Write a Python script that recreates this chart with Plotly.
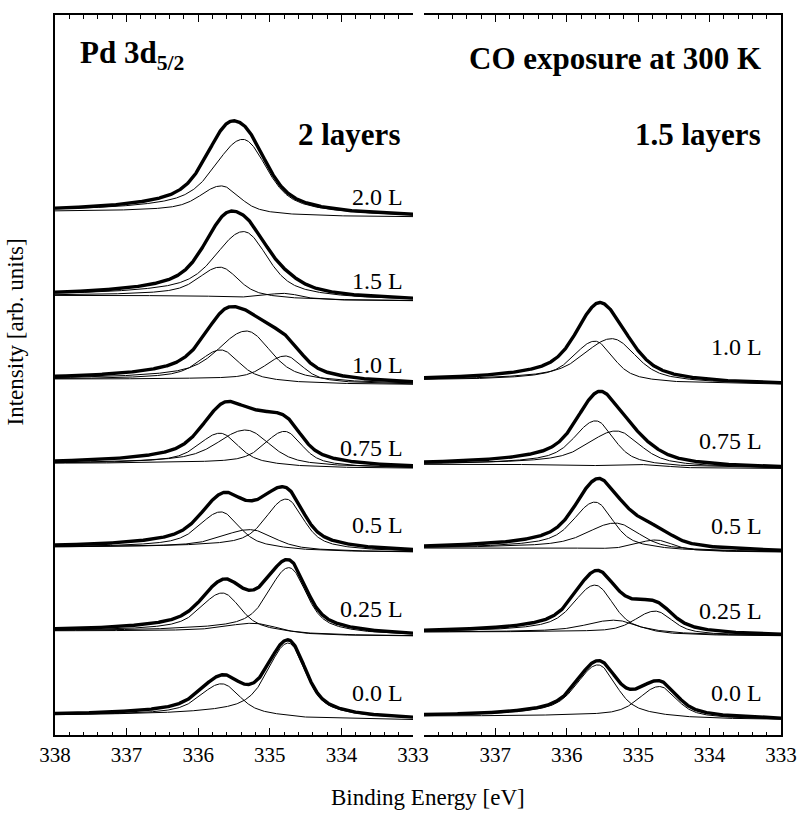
import numpy as np
import plotly.graph_objects as go

# ---------------- data ----------------
# Binding-energy grid limits (eV) and tick labels
BE_MIN, BE_MAX = 333.0, 338.0
left_ticks = [338, 337, 336, 335, 334, 333]
right_ticks = [337, 336, 335, 334, 333]

# Left panel: "2 layers", exposures from bottom to top
left_labels = ["0.0 L", "0.25 L", "0.5 L", "0.75 L", "1.0 L", "1.5 L", "2.0 L"]
left_c1_pos = [335.67, 335.66, 335.68, 335.69, 335.68, 335.69, 335.67]
left_c1_amp = [0.39, 0.47, 0.44, 0.38, 0.37, 0.36, 0.33]
left_c2_pos = [335.27, 335.22, 335.27, 335.33, 335.32, 335.36, 335.37]
left_c2_amp = [0.00, 0.12, 0.24, 0.43, 0.61, 0.80, 0.90]
left_c3_pos = [334.74, 334.73, 334.77, 334.79, 334.78, 334.80, 334.80]
left_c3_amp = [0.90, 0.80, 0.62, 0.43, 0.33, 0.08, 0.00]

# Right panel: "1.5 layers"
right_labels = ["0.0 L", "0.25 L", "0.5 L", "0.75 L", "1.0 L"]
right_c1_pos = [335.56, 335.60, 335.60, 335.59, 335.60]
right_c1_amp = [0.63, 0.58, 0.57, 0.54, 0.49]
right_c2_pos = [335.30, 335.32, 335.31, 335.30, 335.36]
right_c2_amp = [0.00, 0.17, 0.33, 0.43, 0.53]
right_c3_pos = [334.70, 334.76, 334.75, 334.85, 334.75]
right_c3_amp = [0.39, 0.29, 0.14, 0.04, 0.00]

# component half widths (eV)
hw_c1, hw_c2, hw_c3 = 0.25, 0.33, 0.24

# ---------------- style / layout constants ----------------
ETA = 0.40          # Lorentzian fraction
LOR_RATIO = 2.1     # Lorentzian width / Gaussian width
ASYM = 1.2          # broadening on high-BE side
SHIRLEY_K = 0.045   # background step per unit area
ROW_STEP = 1.0
left_label_dy = [0.32, 0.32, 0.33, 0.25, 0.23, 0.24, 0.24]
right_label_dy = [0.32, 0.30, 0.31, 0.33, 0.45]
FONT = "Liberation Serif"

x = np.linspace(BE_MIN, BE_MAX, 801)


def line_shape(xv, c, hw):
    d = xv - c
    s = np.where(d > 0, ASYM, 1.0)
    g = np.exp(-np.log(2) * (d / (hw * s)) ** 2)
    lo = 1.0 / (1.0 + (d / (hw * LOR_RATIO * s)) ** 2)
    return (1 - ETA) * g + ETA * lo


def row_curves(pos, amps, hws):
    comps = [a * line_shape(x, p, w) for p, a, w in zip(pos, amps, hws) if a > 0]
    tot = np.sum(comps, axis=0)
    dx = x[1] - x[0]
    bg = SHIRLEY_K * np.cumsum(tot) * dx  # integral from low BE side
    return bg, comps, tot + bg


fig = go.Figure()


def add_panel(xa, ya, labels, p1, a1, p2, a2, p3, a3):
    for i in range(len(labels)):
        off = i * ROW_STEP
        bg, comps, total = row_curves([p1[i], p2[i], p3[i]], [a1[i], a2[i], a3[i]],
                                      [hw_c1, hw_c2, hw_c3])
        for c in comps:
            fig.add_trace(go.Scatter(x=x, y=off + bg + c, mode="lines", xaxis=xa, yaxis=ya,
                                     line=dict(color="black", width=1), hoverinfo="skip"))
        fig.add_trace(go.Scatter(x=x, y=off + total, mode="lines", xaxis=xa, yaxis=ya,
                                 line=dict(color="black", width=3.4), hoverinfo="skip"))


add_panel("x", "y", left_labels, left_c1_pos, left_c1_amp, left_c2_pos, left_c2_amp,
          left_c3_pos, left_c3_amp)
add_panel("x2", "y2", right_labels, right_c1_pos, right_c1_amp, right_c2_pos, right_c2_amp,
          right_c3_pos, right_c3_amp)

# ---------------- layout ----------------
W, H = 809, 815
ML, MR, MT, MB = 55, 20, 15, 80
pw = W - ML - MR
yr = [-0.179, 8.41]

xcommon = dict(range=[BE_MAX, BE_MIN], showline=True, linecolor="black", linewidth=2,
               mirror="ticks", ticks="inside", ticklen=7, tickwidth=1.3, tickcolor="black",
               showgrid=False, zeroline=False,
               tickfont=dict(family=FONT, size=21, color="black"),
               minor=dict(ticks="inside", ticklen=3.5, tickwidth=1, tick0=333, dtick=0.2,
                          tickcolor="black", showgrid=False))

fig.update_layout(
    width=W, height=H, margin=dict(l=ML, r=MR, t=MT, b=MB),
    paper_bgcolor="white", plot_bgcolor="white", showlegend=False,
    xaxis=dict(domain=[0, (417 - ML) / pw], anchor="y", tickmode="array",
               tickvals=left_ticks, ticktext=[str(t) for t in left_ticks], **xcommon),
    xaxis2=dict(domain=[(428 - ML) / pw, 1], anchor="y2", tickmode="array",
                tickvals=right_ticks, ticktext=[str(t) for t in right_ticks],
                **xcommon),
    yaxis=dict(range=yr, domain=[0, 1], anchor="x", showline=True, linecolor="black",
               linewidth=2, ticks="", showticklabels=False, showgrid=False, zeroline=False),
    yaxis2=dict(range=yr, domain=[0, 1], anchor="x2", overlaying="y", side="right",
                showline=True, linecolor="black", linewidth=2, ticks="",
                showticklabels=False, showgrid=False, zeroline=False),
)

bold = dict(family=FONT, size=31, color="black")
reg = dict(family=FONT, size=24, color="black")
axf = dict(family=FONT, size=23, color="black")


def px_x(p):
    return (p - ML) / pw


def px_y(p):
    return (H - MB - p) / (H - MT - MB)


ann = [
    dict(text="<b>Pd 3d<sub>5/2</sub></b>", x=px_x(78), y=px_y(55), xanchor="left", font=bold),
    dict(text="<b>2 layers</b>", x=px_x(406), y=px_y(135), xanchor="right", font=bold),
    dict(text="<b>CO exposure at 300 K</b>", x=px_x(771), y=px_y(58), xanchor="right", font=bold),
    dict(text="<b>1.5 layers</b>", x=px_x(771), y=px_y(135), xanchor="right", font=bold),
    dict(text="Binding Energy [eV]", x=px_x(432), y=px_y(798), xanchor="center", font=axf),
    dict(text="Intensity [arb. units]", x=px_x(15), y=px_y(332), xanchor="center", textangle=-90,
         font=axf),
]
for a in ann:
    a.update(xref="paper", yref="paper", yanchor="middle", showarrow=False)
    fig.add_annotation(**a)

for i, lab in enumerate(left_labels):
    fig.add_annotation(text=lab, xref="paper", yref="y", x=px_x(409), y=i * ROW_STEP + left_label_dy[i],
                       xanchor="right", yanchor="middle", showarrow=False, font=reg)
for i, lab in enumerate(right_labels):
    fig.add_annotation(text=lab, xref="paper", yref="y", x=px_x(772), y=i * ROW_STEP + right_label_dy[i],
                       xanchor="right", yanchor="middle", showarrow=False, font=reg)

fig.write_html("out.html", config={"displayModeBar": False},
               post_script="document.body.style.margin='0';document.body.style.padding='0';")
